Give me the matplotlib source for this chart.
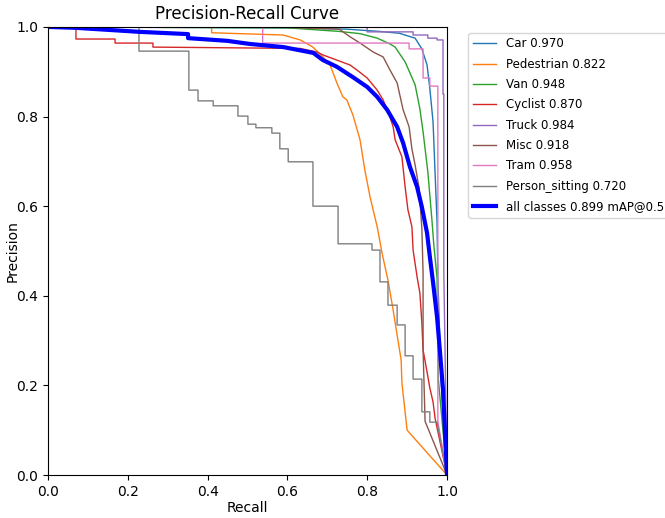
import matplotlib
matplotlib.use('Agg')
import matplotlib.pyplot as plt
import numpy as np

# per-class PR curves (recall, precision)
car_r = [0.0, 0.60, 0.75, 0.83, 0.88, 0.92, 0.937, 0.950, 0.957, 0.965, 0.970, 0.975, 0.977, 0.985, 1.0]
car_p = [1.0, 0.998, 0.995, 0.99, 0.986, 0.975, 0.951, 0.915, 0.862, 0.788, 0.676, 0.565, 0.44, 0.216, 0.0]

ped_r = [0.0, 0.41, 0.41, 0.589, 0.632, 0.664, 0.689, 0.707, 0.724, 0.739, 0.749, 0.764, 0.782,
         0.794, 0.807, 0.825, 0.837, 0.852, 0.865, 0.877, 0.885, 0.887, 0.90, 1.0]
ped_p = [1.0, 1.0, 0.987, 0.982, 0.971, 0.955, 0.933, 0.915, 0.875, 0.844, 0.837, 0.804, 0.748,
         0.681, 0.621, 0.554, 0.496, 0.435, 0.368, 0.301, 0.257, 0.205, 0.10, 0.0]

van_r = [0.0, 0.6, 0.73, 0.782, 0.825, 0.857, 0.87, 0.895, 0.92, 0.932, 0.94, 0.952, 0.962,
         0.967, 0.975, 0.978, 1.0]
van_p = [1.0, 0.998, 0.99, 0.985, 0.975, 0.962, 0.955, 0.922, 0.871, 0.817, 0.766, 0.676, 0.571,
         0.513, 0.44, 0.216, 0.0]

cyc_r = [0.0, 0.070, 0.070, 0.168, 0.168, 0.263, 0.263, 0.632, 0.674, 0.689, 0.724, 0.757, 0.774,
         0.80, 0.825, 0.84, 0.857, 0.865, 0.87, 0.887, 0.895, 0.902, 0.912, 0.915, 0.925, 0.932,
         0.937, 0.94, 0.95, 0.957, 0.965, 0.97, 1.0]
cyc_p = [1.0, 1.0, 0.973, 0.973, 0.964, 0.964, 0.955, 0.952, 0.944, 0.9375, 0.926, 0.915, 0.904,
         0.886, 0.859, 0.837, 0.799, 0.777, 0.748, 0.710, 0.643, 0.592, 0.554, 0.502, 0.442, 0.406,
         0.339, 0.279, 0.23, 0.194, 0.163, 0.127, 0.0]

misc_r = [0.0, 0.60, 0.73, 0.757, 0.782, 0.815, 0.84, 0.857, 0.875, 0.89, 0.905, 0.912, 0.92,
          0.93, 0.937, 0.94, 0.94, 0.945, 1.0]
misc_p = [1.0, 0.999, 0.995, 0.978, 0.964, 0.944, 0.933, 0.904, 0.875, 0.815, 0.777, 0.728,
          0.692, 0.64, 0.55, 0.45, 0.28, 0.12, 0.0]

# stepped curves: precision holds from each recall value up to the next one
truck_r = [0.0, 0.80, 0.915, 0.952, 0.975, 0.99, 0.992]
truck_p = [1.0, 0.989, 0.982, 0.975, 0.971, 0.85, 0.45]

tram_r = [0.0, 0.538, 0.905, 0.94, 0.957, 0.977]
tram_p = [1.0, 0.964, 0.951, 0.886, 0.868, 0.12]

sit_r = [0.0, 0.228, 0.353, 0.376, 0.414, 0.476, 0.501, 0.521, 0.561, 0.581, 0.602, 0.664,
         0.727, 0.812, 0.832, 0.852, 0.875, 0.895, 0.915, 0.937, 0.957]
sit_p = [1.0, 0.946, 0.859, 0.835, 0.824, 0.801, 0.783, 0.775, 0.763, 0.728, 0.699, 0.600,
         0.516, 0.502, 0.431, 0.379, 0.335, 0.266, 0.214, 0.141, 0.118]
sit_end = 0.975

all_r = [0.0, 0.07, 0.23, 0.351, 0.351, 0.449, 0.506, 0.59, 0.665, 0.689, 0.724, 0.764, 0.80,
         0.825, 0.85, 0.875, 0.89, 0.907, 0.925, 0.937, 0.95, 0.957, 0.965, 0.975, 0.982, 0.99,
         0.995, 1.0]
all_p = [1.0, 0.998, 0.989, 0.984, 0.975, 0.969, 0.962, 0.955, 0.942, 0.926, 0.911, 0.888, 0.866,
         0.844, 0.815, 0.777, 0.741, 0.688, 0.643, 0.598, 0.540, 0.487, 0.43, 0.353, 0.279, 0.19,
         0.094, 0.0]

names = ['Car', 'Pedestrian', 'Van', 'Cyclist', 'Truck', 'Misc', 'Tram', 'Person_sitting']
ap = [0.970, 0.822, 0.948, 0.870, 0.984, 0.918, 0.958, 0.720]
map50 = 0.899


def steps(r, p, end=None):
    # staircase through the points, then a straight drop to (1, 0)
    xs, ys = [r[0]], [p[0]]
    for i in range(1, len(r)):
        xs += [r[i], r[i]]
        ys += [p[i - 1], p[i]]
    if end is not None:
        xs.append(end)
        ys.append(p[-1])
    xs.append(1.0)
    ys.append(0.0)
    return xs, ys


truck_x, truck_y = steps(truck_r, truck_p)
tram_x, tram_y = steps(tram_r, tram_p)
sit_x, sit_y = steps(sit_r, sit_p, sit_end)

curves = [(car_r, car_p), (ped_r, ped_p), (van_r, van_p), (cyc_r, cyc_p),
          (truck_x, truck_y), (misc_r, misc_p), (tram_x, tram_y), (sit_x, sit_y)]

fig = plt.figure(figsize=(6.65, 5.18), dpi=100)
ax = fig.add_axes([0.0722, 0.083, 0.6, 0.865])

for (x, y), name, a in zip(curves, names, ap):
    ax.plot(x, y, linewidth=1, label=f'{name} {a:.3f}')
ax.plot(all_r, all_p, linewidth=3, color='blue', label=f'all classes {map50:.3f} mAP@0.5')

ax.set_xlim(0, 1)
ax.set_ylim(0, 1)
ax.set_xlabel('Recall')
ax.set_ylabel('Precision')
ax.xaxis.set_label_coords(0.5, -0.057)
ax.yaxis.set_label_coords(-0.07, 0.5)
ax.set_title('Precision-Recall Curve')
ax.legend(loc='upper left', bbox_to_anchor=(1.053, 0.987), borderaxespad=0,
          fontsize=8.5, labelspacing=0.62)

fig.savefig('out.png', dpi=100)
